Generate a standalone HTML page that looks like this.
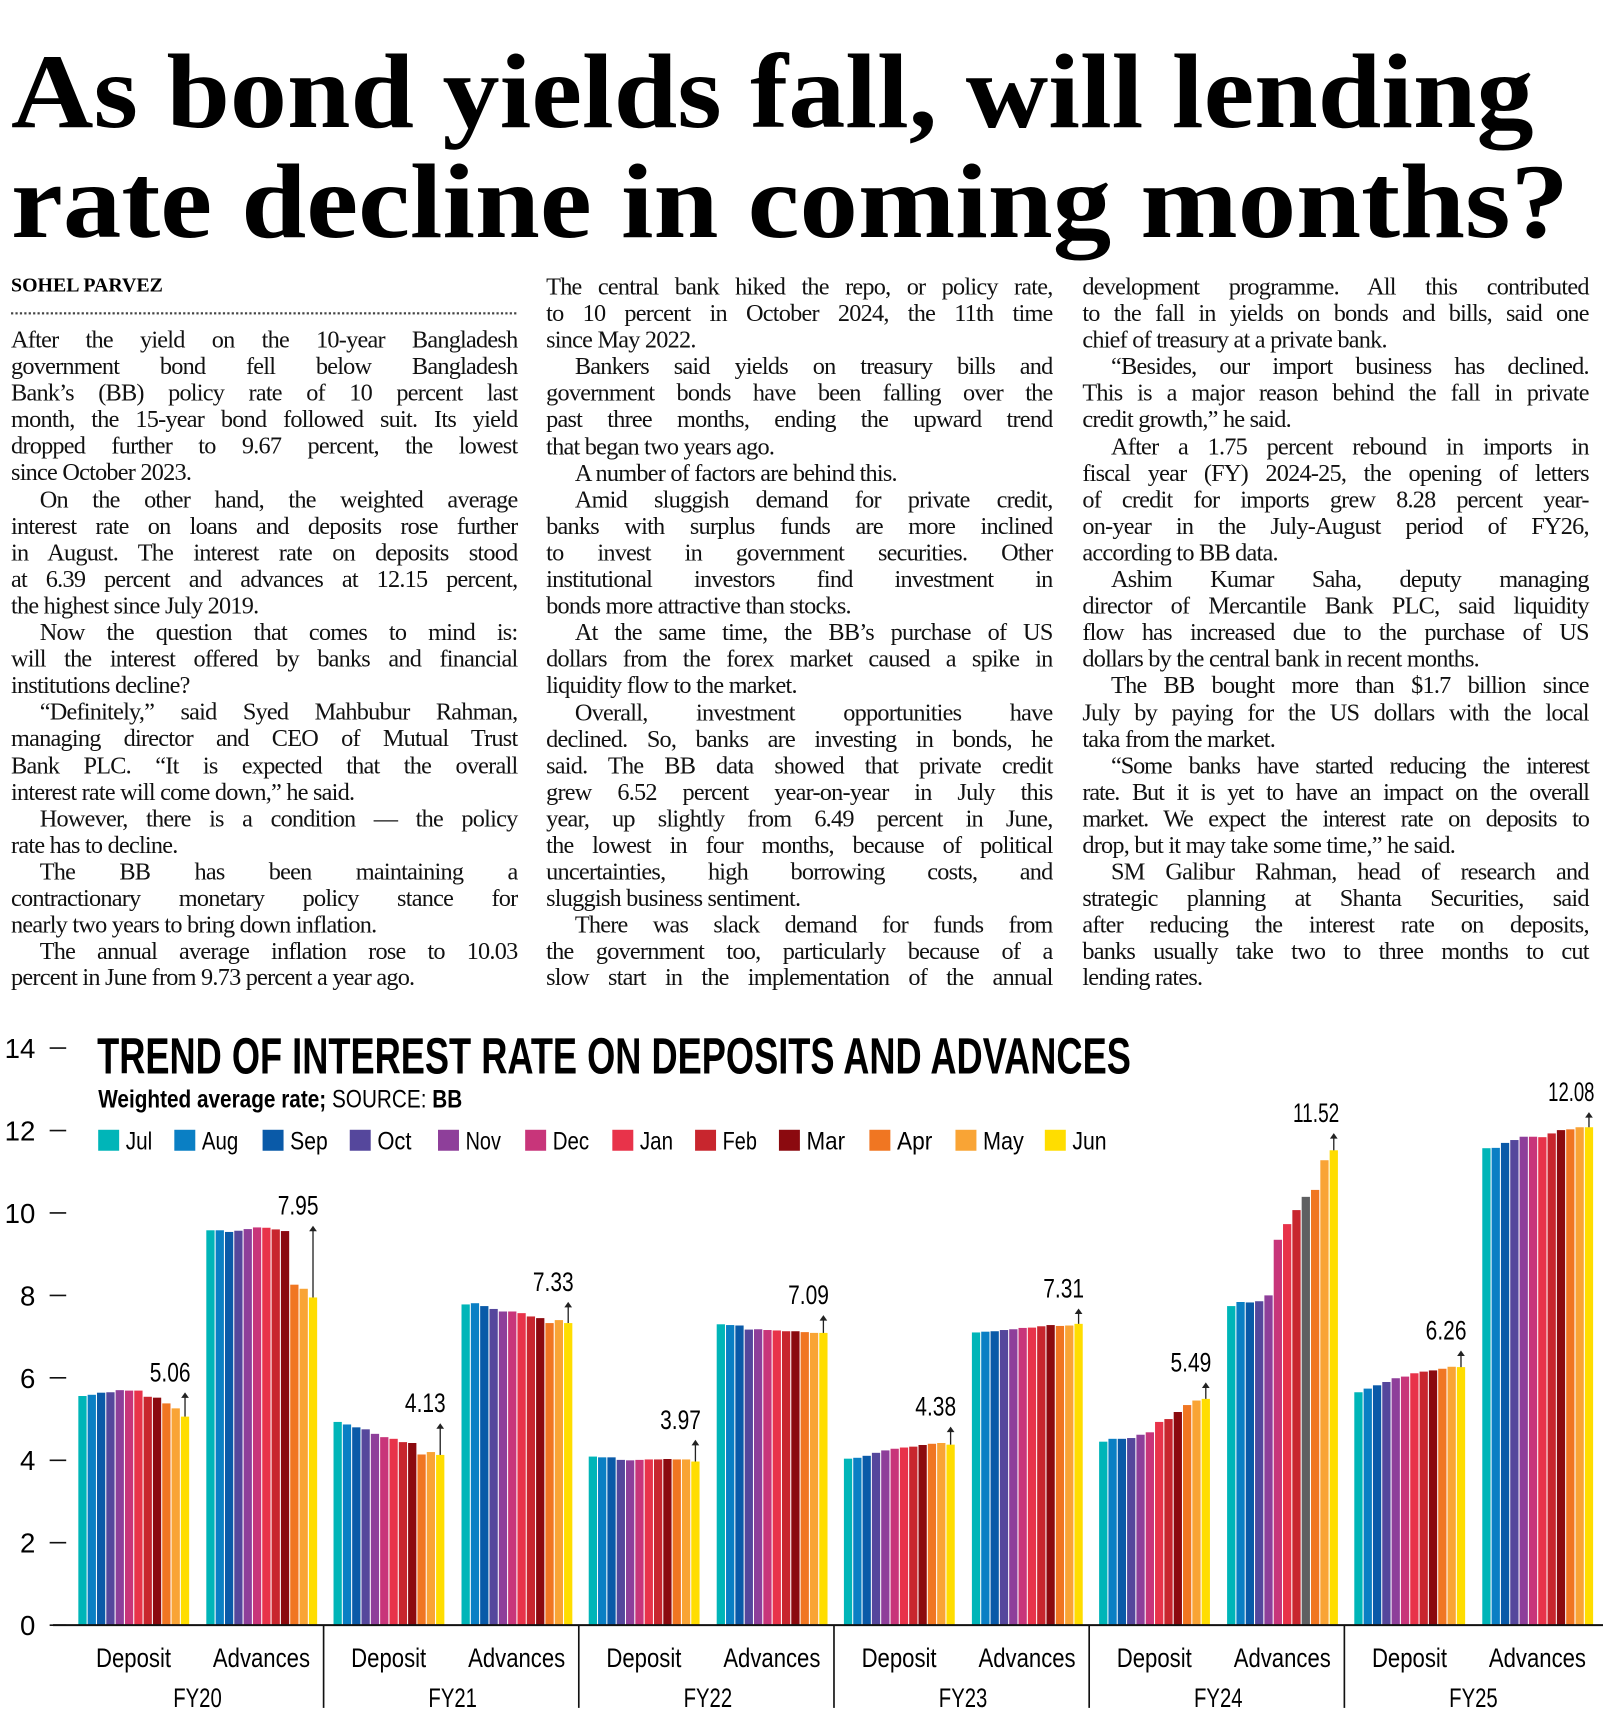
<!DOCTYPE html>
<html><head><meta charset="utf-8">
<style>
html,body{margin:0;padding:0;background:#fff;}
body{width:1603px;height:1733px;overflow:hidden;position:relative;}
#w{position:absolute;left:0;top:0;width:1453px;height:1571px;transform:scale(1.1033);transform-origin:0 0;}
.col{position:absolute;width:459px;font-family:"Liberation Serif",serif;font-size:22px;letter-spacing:-0.7px;color:#111;}
.col div{height:24.1px;line-height:24.1px;white-space:nowrap;text-align:left;}
.col div.j{text-align:justify;text-align-last:justify;}
.col div.i{padding-left:26px;}
.by{position:absolute;left:10px;top:248px;font-family:"Liberation Serif",serif;font-weight:bold;font-size:18px;}
.dot{position:absolute;left:10px;top:283px;width:458px;border-top:2px dotted #444;}
svg text{font-family:"Liberation Sans Narrow","Liberation Sans",sans-serif;}
</style></head><body>
<div id="w">
<svg width="1453" height="240" style="position:absolute;left:0;top:0">
<text x="10" y="115" textLength="1380" lengthAdjust="spacingAndGlyphs" style="font-family:'Liberation Serif',serif;font-weight:bold;font-size:96px">As bond yields fall, will lending</text>
<text x="10" y="215" textLength="1412" lengthAdjust="spacingAndGlyphs" style="font-family:'Liberation Serif',serif;font-weight:bold;font-size:96px">rate decline in coming months?</text>
</svg>
<div class="by">SOHEL PARVEZ</div>
<div class="dot"></div>
<div class="col" style="left:10px;top:296px">
<div class="j">After the yield on the 10-year Bangladesh</div>
<div class="j">government bond fell below Bangladesh</div>
<div class="j">Bank’s (BB) policy rate of 10 percent last</div>
<div class="j">month, the 15-year bond followed suit. Its yield</div>
<div class="j">dropped further to 9.67 percent, the lowest</div>
<div>since October 2023.</div>
<div class="j i">On the other hand, the weighted average</div>
<div class="j">interest rate on loans and deposits rose further</div>
<div class="j">in August. The interest rate on deposits stood</div>
<div class="j">at 6.39 percent and advances at 12.15 percent,</div>
<div>the highest since July 2019.</div>
<div class="j i">Now the question that comes to mind is:</div>
<div class="j">will the interest offered by banks and financial</div>
<div>institutions decline?</div>
<div class="j i">“Definitely,” said Syed Mahbubur Rahman,</div>
<div class="j">managing director and CEO of Mutual Trust</div>
<div class="j">Bank PLC. “It is expected that the overall</div>
<div>interest rate will come down,” he said.</div>
<div class="j i">However, there is a condition — the policy</div>
<div>rate has to decline.</div>
<div class="j i">The BB has been maintaining a</div>
<div class="j">contractionary monetary policy stance for</div>
<div>nearly two years to bring down inflation.</div>
<div class="j i">The annual average inflation rose to 10.03</div>
<div>percent in June from 9.73 percent a year ago.</div>
</div>
<div class="col" style="left:495px;top:248px">
<div class="j">The central bank hiked the repo, or policy rate,</div>
<div class="j">to 10 percent in October 2024, the 11th time</div>
<div>since May 2022.</div>
<div class="j i">Bankers said yields on treasury bills and</div>
<div class="j">government bonds have been falling over the</div>
<div class="j">past three months, ending the upward trend</div>
<div>that began two years ago.</div>
<div class="i">A number of factors are behind this.</div>
<div class="j i">Amid sluggish demand for private credit,</div>
<div class="j">banks with surplus funds are more inclined</div>
<div class="j">to invest in government securities. Other</div>
<div class="j">institutional investors find investment in</div>
<div>bonds more attractive than stocks.</div>
<div class="j i">At the same time, the BB’s purchase of US</div>
<div class="j">dollars from the forex market caused a spike in</div>
<div>liquidity flow to the market.</div>
<div class="j i">Overall, investment opportunities have</div>
<div class="j">declined. So, banks are investing in bonds, he</div>
<div class="j">said. The BB data showed that private credit</div>
<div class="j">grew 6.52 percent year-on-year in July this</div>
<div class="j">year, up slightly from 6.49 percent in June,</div>
<div class="j">the lowest in four months, because of political</div>
<div class="j">uncertainties, high borrowing costs, and</div>
<div>sluggish business sentiment.</div>
<div class="j i">There was slack demand for funds from</div>
<div class="j">the government too, particularly because of a</div>
<div class="j">slow start in the implementation of the annual</div>
</div>
<div class="col" style="left:981px;top:248px">
<div class="j">development programme. All this contributed</div>
<div class="j">to the fall in yields on bonds and bills, said one</div>
<div>chief of treasury at a private bank.</div>
<div class="j i">“Besides, our import business has declined.</div>
<div class="j">This is a major reason behind the fall in private</div>
<div>credit growth,” he said.</div>
<div class="j i">After a 1.75 percent rebound in imports in</div>
<div class="j">fiscal year (FY) 2024-25, the opening of letters</div>
<div class="j">of credit for imports grew 8.28 percent year-</div>
<div class="j">on-year in the July-August period of FY26,</div>
<div>according to BB data.</div>
<div class="j i">Ashim Kumar Saha, deputy managing</div>
<div class="j">director of Mercantile Bank PLC, said liquidity</div>
<div class="j">flow has increased due to the purchase of US</div>
<div>dollars by the central bank in recent months.</div>
<div class="j i">The BB bought more than $1.7 billion since</div>
<div class="j">July by paying for the US dollars with the local</div>
<div>taka from the market.</div>
<div class="j i" style="letter-spacing:-1px">“Some banks have started reducing the interest</div>
<div class="j" style="letter-spacing:-1px">rate. But it is yet to have an impact on the overall</div>
<div class="j" style="letter-spacing:-1px">market. We expect the interest rate on deposits to</div>
<div>drop, but it may take some time,” he said.</div>
<div class="j i">SM Galibur Rahman, head of research and</div>
<div class="j">strategic planning at Shanta Securities, said</div>
<div class="j">after reducing the interest rate on deposits,</div>
<div class="j">banks usually take two to three months to cut</div>
<div>lending rates.</div>
</div>
<svg id="ch" width="1453" height="1571" style="position:absolute;left:0;top:0"></svg>
</div>
<script>
(function(){
var s=document.getElementById('ch'),h='';
var Y=function(v){return 1473-v*37.36;};
for(var t=0;t<=14;t+=2){var y=Y(t);h+='<text x="32" y="'+(y+9)+'" text-anchor="end" font-size="25">'+t+'</text><line x1="45" x2="60" y1="'+y+'" y2="'+y+'" stroke="#111" stroke-width="1.5"/>';}
h+='<text x="88" y="973" font-size="46" font-weight="bold" textLength="937" lengthAdjust="spacingAndGlyphs">TREND OF INTEREST RATE ON DEPOSITS AND ADVANCES</text>';
h+='<text x="89" y="1004" font-size="23" font-weight="bold" textLength="330" lengthAdjust="spacingAndGlyphs">Weighted average rate; <tspan font-weight="normal">SOURCE: </tspan>BB</text>';
var C=['#00b5b8','#0a7fc4','#0a5aa8','#55479c','#8e3f9a','#c8357a','#e8334a','#c8262e','#8b0a0f','#f07622','#f9a435','#ffdd00'];
var M=['Jul','Aug','Sep','Oct','Nov','Dec','Jan','Feb','Mar','Apr','May','Jun'];
var LW=[24,33,34,31,32,33,30,31,35,32,37,31];
var LX=[89,158,238,317,397,476,555,630,706,788,866,947];
for(var i=0;i<12;i++){h+='<rect x="'+LX[i]+'" y="1024" width="19" height="19" fill="'+C[i]+'"/><text x="'+(LX[i]+25)+'" y="1042" font-size="23" textLength="'+LW[i]+'" lengthAdjust="spacingAndGlyphs">'+M[i]+'</text>';}
var D=[
[5.56,5.59,5.64,5.65,5.70,5.69,5.69,5.54,5.52,5.38,5.26,5.06],
[9.58,9.58,9.54,9.57,9.61,9.65,9.64,9.60,9.56,8.26,8.16,7.95],
[4.93,4.87,4.80,4.75,4.64,4.56,4.52,4.44,4.42,4.14,4.20,4.13],
[7.78,7.81,7.74,7.67,7.61,7.61,7.57,7.49,7.45,7.33,7.40,7.33],
[4.09,4.07,4.07,4.01,4.00,4.01,4.02,4.02,4.03,4.02,4.02,3.97],
[7.30,7.28,7.27,7.17,7.18,7.16,7.15,7.13,7.13,7.11,7.09,7.09],
[4.04,4.06,4.11,4.18,4.24,4.28,4.31,4.33,4.37,4.40,4.42,4.38],
[7.10,7.12,7.13,7.16,7.18,7.21,7.22,7.25,7.28,7.26,7.27,7.31],
[4.45,4.52,4.52,4.54,4.62,4.68,4.93,5.00,5.17,5.34,5.45,5.49],
[7.74,7.84,7.83,7.86,8.00,9.35,9.73,10.07,10.39,10.56,11.28,11.52],
[5.65,5.74,5.82,5.90,5.99,6.03,6.11,6.15,6.18,6.22,6.27,6.26],
[11.57,11.58,11.70,11.77,11.85,11.85,11.84,11.93,12.01,12.03,12.08,12.08]];
var AT=[1262,1111,1290,1180,1305,1192,1293,1186,1253,1027,1224,1008];
var LB=['5.06','7.95','4.13','7.33','3.97','7.09','4.38','7.31','5.49','11.52','6.26','12.08'];
for(var g=0;g<12;g++){
 var fy=Math.floor(g/2),x0=71+fy*231.3+(g%2)*116;
 for(var i=0;i<12;i++){var v=D[g][i],c=C[i];if(g==9&&i==8)c='#5f6062';
  h+='<rect x="'+(x0+i*8.45).toFixed(2)+'" y="'+Y(v).toFixed(1)+'" width="7.5" height="'+(v*37.36).toFixed(1)+'" fill="'+c+'"/>';}
 var cx=x0+11*8.45+3.75,bt=Y(D[g][11]);
 h+='<line x1="'+cx+'" x2="'+cx+'" y1="'+bt+'" y2="'+(AT[g]+3)+'" stroke="#222" stroke-width="1.2"/><path d="M'+(cx-3.5)+' '+(AT[g]+5)+' L'+cx+' '+AT[g]+' L'+(cx+3.5)+' '+(AT[g]+5)+'Z" fill="#222"/>';
 h+='<text x="'+(cx+5-(LB[g].length>4?42:37))+'" y="'+(AT[g]-10)+'" font-size="24" textLength="'+(LB[g].length>4?42:37)+'" lengthAdjust="spacingAndGlyphs">'+LB[g]+'</text>';
 var lw=g%2?88:68;
 h+='<text x="'+(x0+50-lw/2)+'" y="1511" font-size="24" textLength="'+lw+'" lengthAdjust="spacingAndGlyphs">'+(g%2?'Advances':'Deposit')+'</text>';
 if(g%2==0){h+='<text x="'+(x0+108-22)+'" y="1547" font-size="24" textLength="44" lengthAdjust="spacingAndGlyphs">FY'+(20+fy)+'</text>';
  if(fy>0)h+='<line x1="'+(x0-9)+'" x2="'+(x0-9)+'" y1="1473" y2="1548" stroke="#111" stroke-width="1.5"/>';}
}
h+='<line x1="48" x2="1453" y1="1473" y2="1473" stroke="#111" stroke-width="1.8"/>';
s.innerHTML=h;
})();
</script>
</body></html>
